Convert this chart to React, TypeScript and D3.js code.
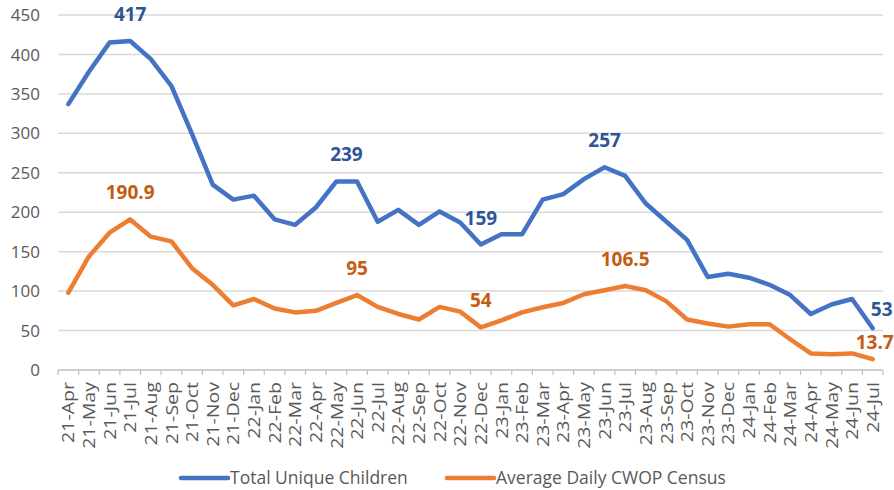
import React from "react";
import * as d3 from "d3";

const categories = [
  "21-Apr","21-May","21-Jun","21-Jul","21-Aug","21-Sep","21-Oct","21-Nov","21-Dec",
  "22-Jan","22-Feb","22-Mar","22-Apr","22-May","22-Jun","22-Jul","22-Aug","22-Sep","22-Oct","22-Nov","22-Dec",
  "23-Jan","23-Feb","23-Mar","23-Apr","23-May","23-Jun","23-Jul","23-Aug","23-Sep","23-Oct","23-Nov","23-Dec",
  "24-Jan","24-Feb","24-Mar","24-Apr","24-May","24-Jun","24-Jul",
];

const totalUniqueChildren = [
  337, 378, 415, 417, 394, 360, 299, 235, 216,
  221, 191, 184, 206, 239, 239, 188, 203, 184, 201, 187, 159,
  172, 172, 216, 223, 242, 257, 246, 211, 188, 165, 118, 122,
  117, 108, 95, 71, 83, 90, 53,
];

const averageDailyCensus = [
  98, 144, 174, 190.9, 169, 163, 129, 108, 82,
  90, 78, 73, 75, 85, 95, 80, 71, 64, 80, 74, 54,
  63, 73, 79.5, 85, 96, 101, 106.5, 101, 87, 64, 59, 55,
  58, 58, 39, 21, 20, 21, 13.7,
];

const yTicks = [0, 50, 100, 150, 200, 250, 300, 350, 400, 450];

const seriesNames = ["Total Unique Children", "Average Daily CWOP Census"];

// labels: [series index, category index, text, dx, dy]
const dataLabels: [number, number, string, number, number][] = [
  [0, 3, "417", 0, -20.5],
  [0, 13, "239", 10, -20],
  [0, 20, "159", 0, -20],
  [0, 26, "257", 0, -20],
  [0, 39, "53", 9, -12],
  [1, 3, "190.9", 0, -20],
  [1, 14, "95", 0, -20],
  [1, 20, "54", 0, -20],
  [1, 27, "106.5", 0, -20],
  [1, 39, "13.7", 2, -10],
];

const W = 894;
const H = 490;
const margin = { left: 58, right: 11, top: 15, bottom: 120 };
const font = "'Open Sans', sans-serif";
const lineColors = ["#4472C4", "#ED7D31"];
const labelColors = ["#2F5597", "#C55A11"];

export default function App() {
  const x = d3
    .scaleBand<string>()
    .domain(categories)
    .range([margin.left, W - margin.right]);
  const y = d3.scaleLinear().domain([0, 450]).range([H - margin.bottom, margin.top]);
  const cx = (i: number) => (x(categories[i]) as number) + x.bandwidth() / 2;

  const line = d3
    .line<number>()
    .x((_, i) => cx(i))
    .y((d) => y(d));

  const series = [totalUniqueChildren, averageDailyCensus];
  const y0 = y(0);

  return (
    <svg
      width={W}
      height={H}
      style={{ position: "absolute", left: 0, top: 0, background: "#fff" }}
      fontFamily={font}
    >
      {yTicks.map((t) => (
        <g key={t}>
          {t > 0 && (
            <line
              x1={margin.left}
              x2={W - margin.right}
              y1={y(t)}
              y2={y(t)}
              stroke="#D9D9D9"
              strokeWidth={1.5}
            />
          )}
          <text
            x={40}
            y={y(t)}
            dy="0.36em"
            textAnchor="end"
            fontSize={17}
            fill="#595959"
          >
            {t}
          </text>
        </g>
      ))}
      <line x1={margin.left} x2={W - margin.right} y1={y0} y2={y0} stroke="#BFBFBF" strokeWidth={1.5} />
      {categories.map((c) => (
        <line
          key={"tk" + c}
          x1={x(c) as number}
          x2={x(c) as number}
          y1={y0}
          y2={y0 + 5}
          stroke="#BFBFBF"
          strokeWidth={1.2}
        />
      ))}
      <line
        x1={W - margin.right}
        x2={W - margin.right}
        y1={y0}
        y2={y0 + 5}
        stroke="#BFBFBF"
        strokeWidth={1.2}
      />
      {categories.map((c, i) => (
        <text
          key={"xl" + c}
          transform={`translate(${cx(i)},${y0 + 12}) rotate(-90) scale(1.15,1)`}
          textAnchor="end"
          dy="0.36em"
          fontSize={17}
          fill="#595959"
        >
          {c}
        </text>
      ))}
      {series.map((s, k) => (
        <path
          key={"s" + k}
          d={line(s) as string}
          fill="none"
          stroke={lineColors[k]}
          strokeWidth={4.5}
          strokeLinejoin="round"
          strokeLinecap="round"
        />
      ))}
      {dataLabels.map(([k, i, txt, dx, dy]) => (
        <text
          key={"dl" + k + "-" + i}
          x={cx(i) + dx}
          y={y(series[k][i]) + dy}
          textAnchor="middle"
          fontSize={19}
          fontWeight="bold"
          fill={labelColors[k]}
        >
          {txt}
        </text>
      ))}
      {seriesNames.map((n, k) => {
        const lx = k === 0 ? 181 : 447;
        const ly = 478;
        return (
          <g key={"lg" + k}>
            <line x1={lx} x2={lx + 47} y1={ly} y2={ly} stroke={lineColors[k]} strokeWidth={4.5} strokeLinecap="round" />
            <text x={lx + 49} y={ly} dy="0.36em" fontSize={17.5} fill="#595959">
              {n}
            </text>
          </g>
        );
      })}
    </svg>
  );
}
